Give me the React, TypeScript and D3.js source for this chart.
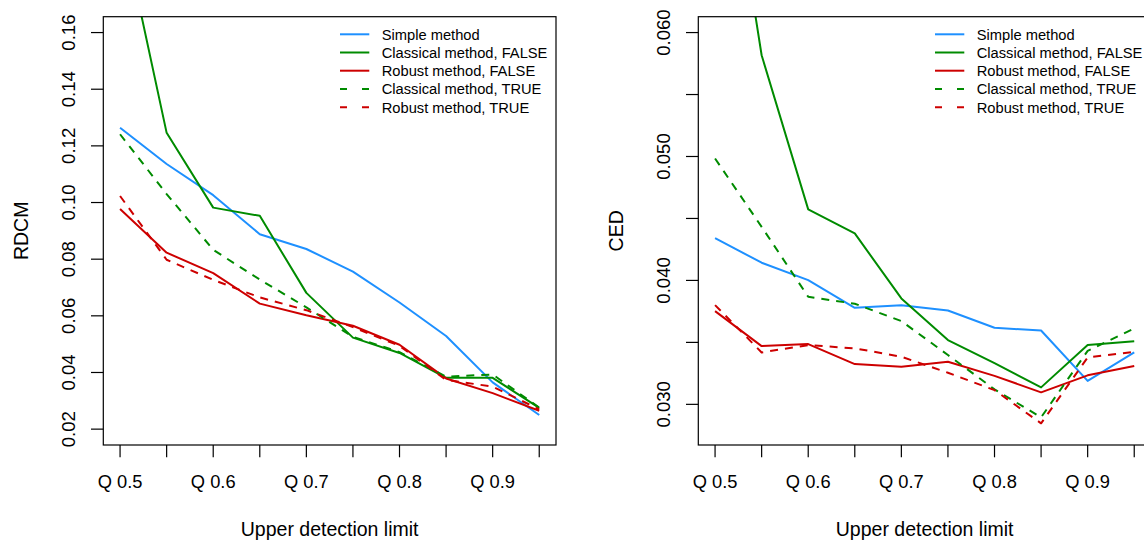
import React from "react";
import * as d3 from "d3";

// ---------- data ----------
const quantiles = [0.5, 0.55, 0.6, 0.65, 0.7, 0.75, 0.8, 0.85, 0.9, 0.95];
const xTickLabels = ["Q 0.5", "", "Q 0.6", "", "Q 0.7", "", "Q 0.8", "", "Q 0.9", ""];

// RDCM panel
const rdcmSimple = [0.1264, 0.1136, 0.1026, 0.0888, 0.0836, 0.0756, 0.0647, 0.0529, 0.0365, 0.025];
const rdcmClassicalFalse = [0.201, 0.1246, 0.0982, 0.0953, 0.0681, 0.0523, 0.0469, 0.0381, 0.0381, 0.0275];
const rdcmRobustFalse = [0.0977, 0.0823, 0.0751, 0.0643, 0.0602, 0.0565, 0.0498, 0.0379, 0.0327, 0.0265];
const rdcmClassicalTrue = [0.1241, 0.103, 0.0833, 0.0728, 0.063, 0.0526, 0.0472, 0.0385, 0.0393, 0.0276];
const rdcmRobustTrue = [0.1023, 0.0798, 0.0727, 0.0665, 0.062, 0.056, 0.0494, 0.0374, 0.035, 0.027];
const rdcmTicks = [0.02, 0.04, 0.06, 0.08, 0.1, 0.12, 0.14, 0.16];
const rdcmTickLabels = ["0.02", "0.04", "0.06", "0.08", "0.10", "0.12", "0.14", "0.16"];
const rdcmLimits = [0.02, 0.16];

// CED panel
const cedSimple = [0.04341, 0.04143, 0.04002, 0.03779, 0.038, 0.03757, 0.03618, 0.03596, 0.03189, 0.03419];
const cedClassicalFalse = [0.082, 0.05817, 0.04573, 0.04379, 0.03855, 0.03519, 0.03333, 0.03137, 0.03478, 0.0351];
const cedRobustFalse = [0.03752, 0.0347, 0.03486, 0.03325, 0.03303, 0.03344, 0.0323, 0.03097, 0.03234, 0.03309];
const cedClassicalTrue = [0.04984, 0.04432, 0.03868, 0.03812, 0.03672, 0.03398, 0.03121, 0.02895, 0.03432, 0.03613];
const cedRobustTrue = [0.03801, 0.03419, 0.03478, 0.03452, 0.03384, 0.03255, 0.03115, 0.02847, 0.03379, 0.03424];
const cedTicks = [0.03, 0.035, 0.04, 0.045, 0.05, 0.055, 0.06];
const cedTickLabels = ["0.030", "", "0.040", "", "0.050", "", "0.060"];
const cedLimits = [0.028, 0.06];

const seriesNames = [
  "Simple method",
  "Classical method, FALSE",
  "Robust method, FALSE",
  "Classical method, TRUE",
  "Robust method, TRUE",
];
const seriesColors = ["#1E90FF", "#008B00", "#CD0000", "#008B00", "#CD0000"];
const seriesDashed = [false, false, false, true, true];

const FONT = "'Liberation Sans', Arial, Helvetica, sans-serif";
const W = 1144;
const H = 543;

type PanelProps = {
  left: number;
  series: number[][];
  limits: number[];
  ticks: number[];
  tickLabels: string[];
  yTitle: string;
  id: string;
};

function Panel({ left, series, limits, ticks, tickLabels, yTitle, id }: PanelProps) {
  const top = 16.7;
  const bottom = 445;
  const width = 452.7;
  const right = left + width;
  const xr = quantiles[quantiles.length - 1] - quantiles[0];
  const x = d3
    .scaleLinear()
    .domain([quantiles[0] - 0.04 * xr, quantiles[quantiles.length - 1] + 0.04 * xr])
    .range([left, right]);
  const yr = limits[1] - limits[0];
  const y = d3
    .scaleLinear()
    .domain([limits[0] - 0.04 * yr, limits[1] + 0.04 * yr])
    .range([bottom, top]);
  const line = d3
    .line<number>()
    .x((_, i) => x(quantiles[i]))
    .y((d) => y(d));
  const midY = (top + bottom) / 2;
  const midX = (left + right) / 2;
  const legX = right - 216;
  const legRows = [34.3, 52.5, 70.7, 89, 107.3];
  return (
    <g>
      <defs>
        <clipPath id={id}>
          <rect x={left} y={top} width={width} height={bottom - top} />
        </clipPath>
      </defs>
      <g clipPath={`url(#${id})`}>
        {series.map((s, i) => (
          <path
            key={i}
            d={line(s) || ""}
            fill="none"
            stroke={seriesColors[i]}
            strokeWidth={2}
            strokeDasharray={seriesDashed[i] ? "8 7" : undefined}
            strokeLinejoin="round"
          />
        ))}
      </g>
      <rect x={left} y={top} width={width} height={bottom - top} fill="none" stroke="#000" strokeWidth={1.2} />
      {/* x axis */}
      {quantiles.map((q, i) => (
        <g key={i}>
          <line x1={x(q)} x2={x(q)} y1={bottom} y2={bottom + 12.3} stroke="#000" strokeWidth={1.2} />
          {xTickLabels[i] && (
            <text x={x(q)} y={488.3} textAnchor="middle" fontFamily={FONT} fontSize={18.3} fill="#000">
              {xTickLabels[i]}
            </text>
          )}
        </g>
      ))}
      {/* y axis */}
      {ticks.map((t, i) => (
        <g key={i}>
          <line x1={left} x2={left - 12.3} y1={y(t)} y2={y(t)} stroke="#000" strokeWidth={1.2} />
          {tickLabels[i] && (
            <text
              transform={`translate(${left - 28.3},${y(t)}) rotate(-90)`}
              textAnchor="middle"
              fontFamily={FONT}
              fontSize={18.6}
              fill="#000"
            >
              {tickLabels[i]}
            </text>
          )}
        </g>
      ))}
      <text x={midX} y={535.7} textAnchor="middle" fontFamily={FONT} fontSize={19.5} fill="#000">
        Upper detection limit
      </text>
      <text
        transform={`translate(${left - 75},${midY}) rotate(-90)`}
        textAnchor="middle"
        fontFamily={FONT}
        fontSize={19.5}
        fill="#000"
      >
        {yTitle}
      </text>
      {/* legend */}
      {seriesNames.map((n, i) => (
        <g key={n}>
          <line
            x1={legX}
            x2={legX + 29.3}
            y1={legRows[i]}
            y2={legRows[i]}
            stroke={seriesColors[i]}
            strokeWidth={2}
            strokeDasharray={seriesDashed[i] ? "7 15" : undefined}
          />
          <text x={legX + 41.7} y={legRows[i] + 5.2} fontFamily={FONT} fontSize={14.7} fill="#000">
            {n}
          </text>
        </g>
      ))}
    </g>
  );
}

export default function App() {
  return (
    <svg
      width={W}
      height={H}
      viewBox={`0 0 ${W} ${H}`}
      style={{ position: "absolute", left: 0, top: 0, background: "#fff" }}
    >
      <rect x={0} y={0} width={W} height={H} fill="#fff" />
      <Panel
        id="clipL"
        left={103.3}
        series={[rdcmSimple, rdcmClassicalFalse, rdcmRobustFalse, rdcmClassicalTrue, rdcmRobustTrue]}
        limits={rdcmLimits}
        ticks={rdcmTicks}
        tickLabels={rdcmTickLabels}
        yTitle="RDCM"
      />
      <Panel
        id="clipR"
        left={698.3}
        series={[cedSimple, cedClassicalFalse, cedRobustFalse, cedClassicalTrue, cedRobustTrue]}
        limits={cedLimits}
        ticks={cedTicks}
        tickLabels={cedTickLabels}
        yTitle="CED"
      />
    </svg>
  );
}
